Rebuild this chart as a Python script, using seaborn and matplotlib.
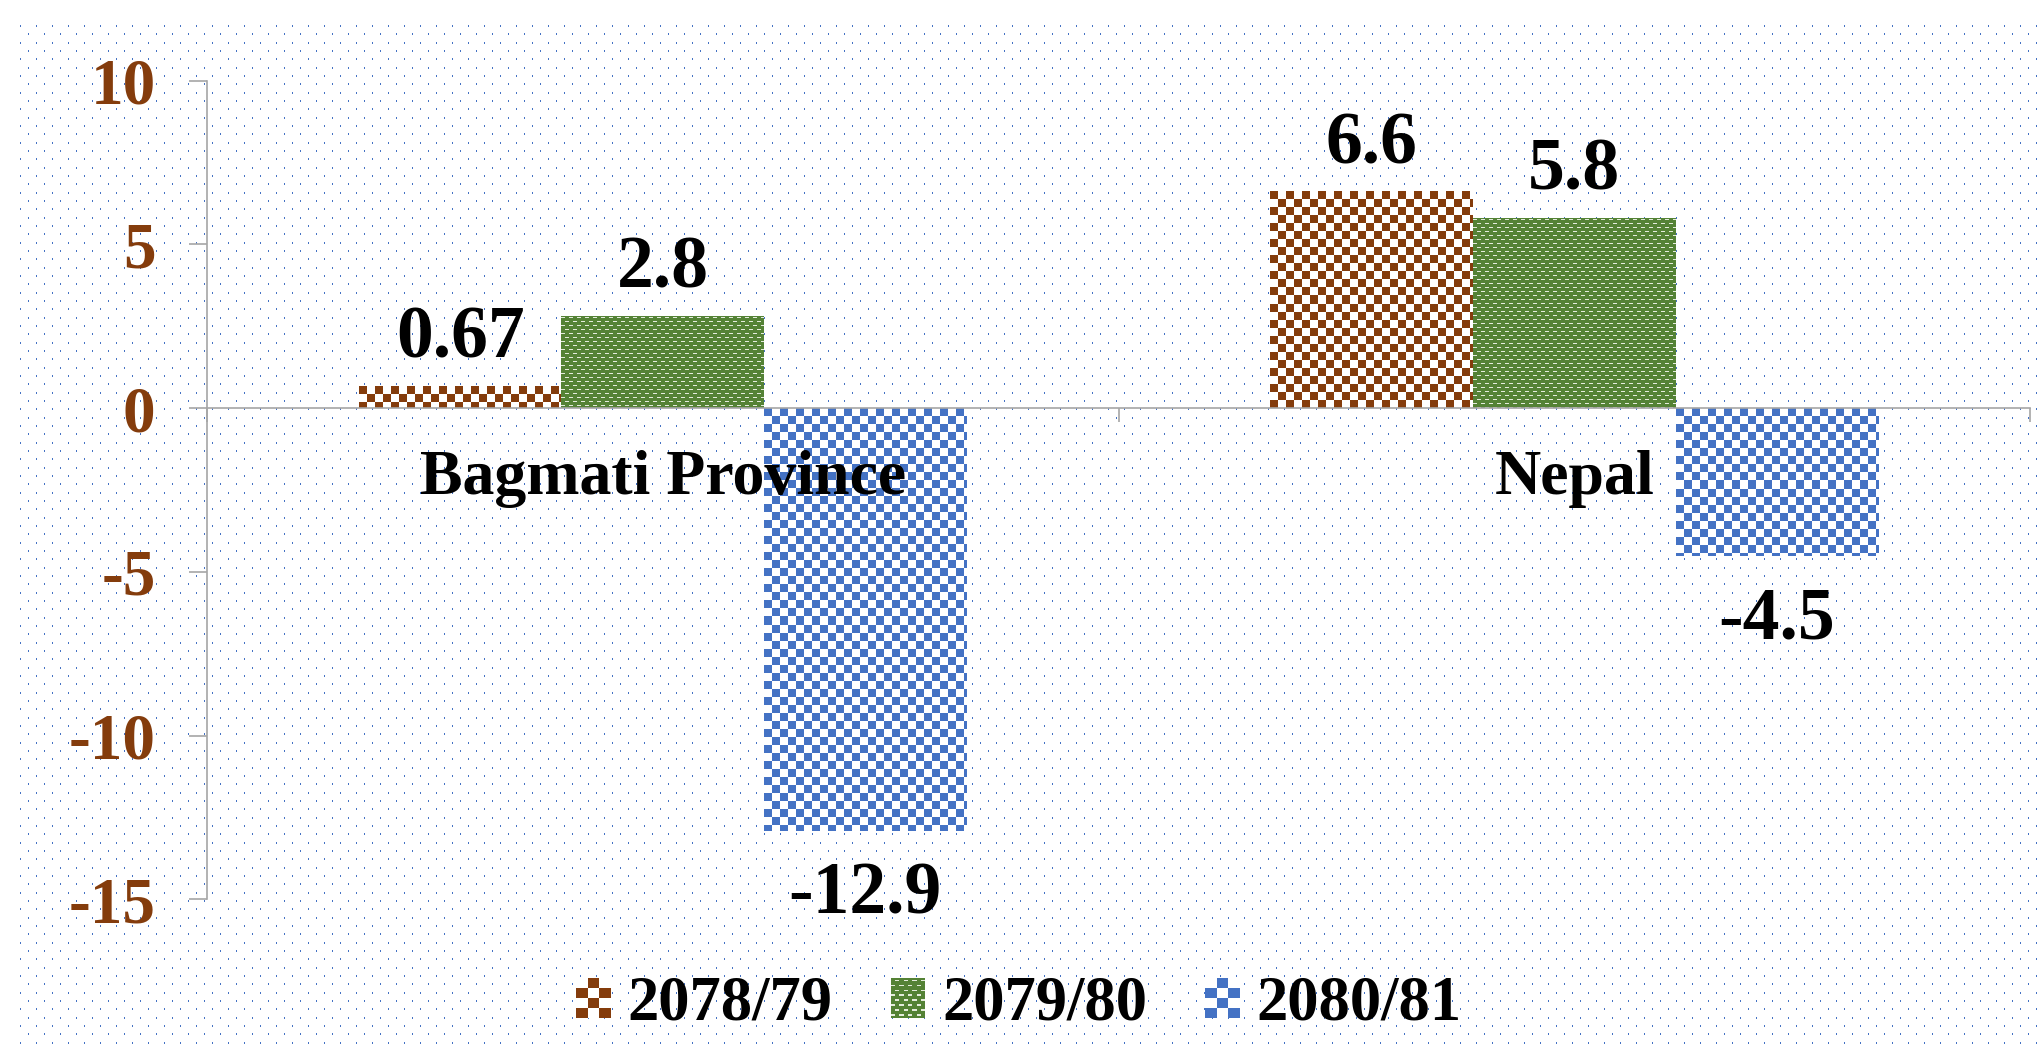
import numpy as np
import pandas as pd
import matplotlib
matplotlib.use('Agg')
import matplotlib.pyplot as plt
import seaborn as sns
from matplotlib.legend_handler import HandlerBase
from matplotlib.patches import Rectangle

# Data
regions = ['Bagmati Province', 'Nepal']
years = ['2078/79', '2079/80', '2080/81']
growth_7879 = [0.67, 6.6]
growth_7980 = [2.8, 5.8]
growth_8081 = [-12.9, -4.5]
y_ticks = [-15, -10, -5, 0, 5, 10]

df = pd.DataFrame({
    'Region': regions * 3,
    'Year': [years[0]] * 2 + [years[1]] * 2 + [years[2]] * 2,
    'Growth': growth_7879 + growth_7980 + growth_8081,
})

colors = {'2078/79': '#843c0c', '2079/80': '#548235', '2080/81': '#4472c4'}


# pixel tiles for the fill patterns (True = coloured pixel)
def checker(cell):
    t = np.zeros((2 * cell, 2 * cell), bool)
    t[:cell, :cell] = True
    t[cell:, cell:] = True
    return t


def dashes():
    t = np.ones((8, 8), bool)
    t[1, 0:4] = False
    t[5, 4:8] = False
    return t


tiles = {'2078/79': checker(8), '2079/80': dashes(), '2080/81': checker(8)}
blank = {'2078/79': '#ffffff', '2079/80': '#e4ecdc', '2080/81': '#ffffff'}


def pattern_img(year, h, w):
    t = tiles[year]
    reps = (h // t.shape[0] + 1, w // t.shape[1] + 1)
    m = np.tile(t, reps)[:h, :w]
    c1 = np.array(matplotlib.colors.to_rgb(colors[year]))
    c0 = np.array(matplotlib.colors.to_rgb(blank[year]))
    return np.where(m[..., None], c1, c0)


plt.rcParams['font.family'] = ['Liberation Serif', 'DejaVu Serif']
plt.rcParams['font.weight'] = 'bold'
plt.rcParams['axes.unicode_minus'] = False

W, H, DPI = 2038, 1050, 100
fig = plt.figure(figsize=(W / DPI, H / DPI), dpi=DPI, facecolor='white')

# dotted background
bg = np.ones((H, W, 3))
dot = np.array(matplotlib.colors.to_rgb('#4472c4'))
k = 0
while True:
    yy = int(round(25 + k * 25 / 3))
    if yy >= H - 1:
        break
    x0 = 20 if k % 2 == 0 else 28
    bg[yy:yy + 2, x0::16] = dot
    k += 1
fig.figimage(bg, xo=0, yo=0, origin='upper', zorder=-1)

ax = fig.add_axes([207 / W, 0.1434, (2030 - 207) / W, 0.7798])
ax.patch.set_alpha(0)

sns.barplot(data=df, x='Region', y='Growth', hue='Year', hue_order=years,
            palette=colors, width=2 / 3, gap=0, legend=False, ax=ax,
            saturation=1, errorbar=None)

ax.set_xlim(-0.5, 1.5)
ax.set_ylim(-15, 10)
ax.set_yticks(y_ticks)
ax.set_xticks([-0.5, 0.5, 1.5])
ax.set_xticklabels([])
ax.set_xlabel('')
ax.set_ylabel('')

grey = '#a6a6a6'
for s in ['top', 'right']:
    ax.spines[s].set_visible(False)
ax.spines['left'].set_color(grey)
ax.spines['left'].set_linewidth(1.2)
ax.spines['bottom'].set_position(('data', 0))
ax.spines['bottom'].set_color(grey)
ax.spines['bottom'].set_linewidth(1.2)
ax.spines['bottom'].set_zorder(5)
ax.tick_params(axis='y', length=13, width=1.2, color=grey, labelcolor='#843c0c',
               labelsize=47, pad=24)
ax.tick_params(axis='x', length=10, width=1.2, color=grey)

# patterned fill drawn over each bar
fig.canvas.draw()
for year, cont in zip(years, ax.containers):
    for bar in cont:
        xa, xb = bar.get_x(), bar.get_x() + bar.get_width()
        ya, yb = sorted([bar.get_y(), bar.get_y() + bar.get_height()])
        (px0, py0), (px1, py1) = ax.transData.transform([(xa, ya), (xb, yb)])
        w = max(int(round(px1 - px0)), 1)
        h = max(int(round(py1 - py0)), 1)
        ax.imshow(pattern_img(year, h, w), extent=(xa, xb, ya, yb), origin='upper',
                  interpolation='nearest', aspect='auto', zorder=2)
ax.set_xlim(-0.5, 1.5)
ax.set_ylim(-15, 10)

# labels above positive bars sit closer than those under negative bars
for cont, pad in zip(ax.containers, [9, 9, 22]):
    ax.bar_label(cont, fmt='%g', padding=pad, fontsize=53, fontweight='bold', zorder=6)

for i, r in enumerate(regions):
    ax.annotate(r, xy=(i, 0), xytext=(0, -30), textcoords='offset points',
                ha='center', va='top', fontsize=46, fontweight='bold', zorder=6)


class PatternHandler(HandlerBase):
    def __init__(self, year):
        super().__init__()
        self.year = year

    def create_artists(self, legend, orig_handle, xdescent, ydescent, width, height,
                       fontsize, trans):
        x0, y0 = -xdescent, -ydescent
        arts = [Rectangle((x0, y0), width, height, facecolor=blank[self.year],
                          edgecolor='none', transform=trans)]
        if self.year == '2079/80':
            nr, nc = 8, 4
        else:
            nr, nc = 4, 3
        cw, ch = width / nc, height / nr
        for r in range(nr):
            for c in range(nc):
                if self.year == '2079/80':
                    arts.append(Rectangle((x0 + c * cw, y0 + r * ch), cw, ch,
                                          facecolor=colors[self.year], edgecolor='none',
                                          transform=trans))
                    arts.append(Rectangle((x0 + c * cw + (r % 2) * cw / 2, y0 + r * ch + ch * 0.4),
                                          cw / 2, ch * 0.3, facecolor=blank[self.year],
                                          edgecolor='none', transform=trans))
                elif (r + c) % 2 == 0:
                    arts.append(Rectangle((x0 + c * cw, y0 + r * ch), cw, ch,
                                          facecolor=colors[self.year], edgecolor='none',
                                          transform=trans))
        return arts


handles = [Rectangle((0, 0), 1, 1, label=y) for y in years]
fig.legend(handles=handles, labels=years, loc='center', bbox_to_anchor=(0.5, 45 / H),
           ncol=3, frameon=False, fontsize=45, handlelength=0.55, handleheight=0.6,
           handletextpad=0.27, columnspacing=0.93,
           handler_map={h: PatternHandler(y) for h, y in zip(handles, years)})

fig.savefig('out.png', dpi=DPI)
